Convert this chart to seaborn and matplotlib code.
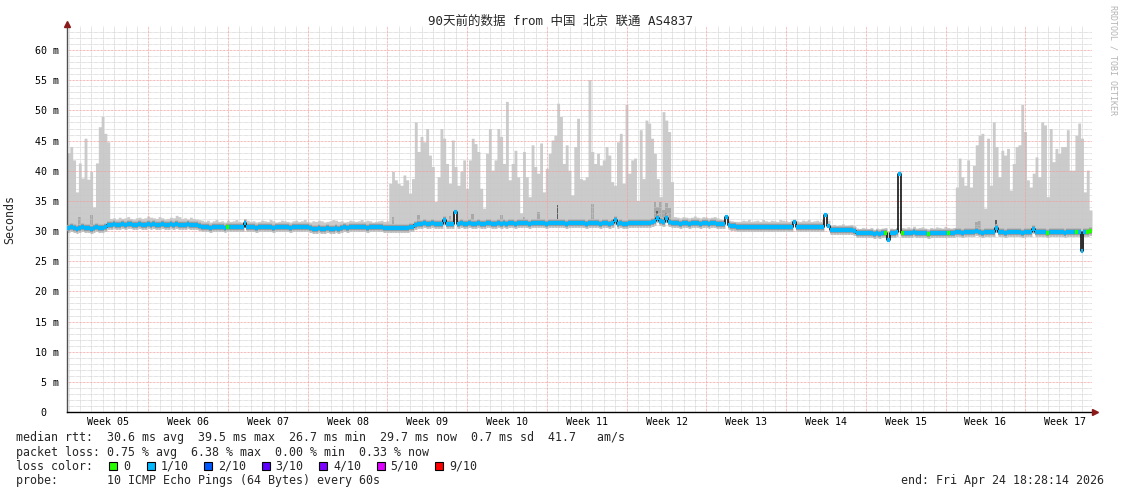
import numpy as np
import matplotlib
matplotlib.use("Agg")
import matplotlib.pyplot as plt
import seaborn as sns
from matplotlib.patches import Rectangle

sns.set_style("white")
plt.rcParams["font.family"] = ["DejaVu Sans Mono", "Noto Sans CJK SC"]

# ---------------- data (ms), one sample per 6 hours, 90 days ----------------
STEP_DAYS = 0.25

# upper edge of the smoke (slowest pings)
hi_a = [43.0, 44.0, 41.8, 36.5, 41.3, 38.8, 45.4, 38.6, 39.9, 34.0, 41.3, 47.3, 49.0, 46.2, 44.8]
hi_q1 = [32.1, 32.2, 32.0, 32.3, 32.1, 32.2, 32.4, 32.1, 32.0, 32.2,
         32.3, 32.1, 32.2, 32.5, 32.3, 32.2, 32.1, 32.4, 32.2, 32.0,
         32.1, 32.3, 32.2, 32.6, 32.4, 32.1, 32.2, 32.0, 32.3, 32.1,
         32.0, 31.9, 31.8,
         31.6, 31.8, 31.5, 31.7, 31.9, 31.6, 31.7, 31.5, 31.8, 31.6,
         31.7, 31.9, 31.6, 31.5, 32.0, 31.8, 31.6, 31.7, 31.5, 31.6,
         31.8, 31.7, 31.6, 31.9, 31.7, 31.5, 31.6, 31.8, 31.7, 31.6,
         31.5, 31.7, 31.8, 31.6, 31.7, 31.9, 31.6, 31.5, 31.7, 31.6,
         31.8, 31.7, 31.5, 31.6, 31.7, 31.9, 31.8, 31.6, 31.7, 31.5,
         31.6, 31.8, 31.7, 31.6, 31.7, 31.9, 31.6, 31.8, 31.7, 31.5,
         31.6, 31.7, 31.8, 31.6, 31.7]
hi_b = [37.9, 39.9, 38.5, 37.9, 37.6, 39.3, 38.5, 36.3, 38.7, 48.1,
        43.2, 45.7, 44.8, 47.0, 42.6, 40.7, 34.9, 39.0, 47.0, 45.4,
        41.2, 37.9, 45.1, 40.7, 37.6, 39.9, 41.8, 37.1, 41.8, 45.4,
        44.5, 43.2, 37.1, 33.8, 42.9, 47.0, 40.1, 41.8, 47.0, 45.7,
        41.2, 51.5, 38.5, 41.2, 43.4, 39.0, 33.0, 43.2, 39.0, 35.7,
        44.3, 40.7,
        39.6, 44.6, 36.5, 40.4, 42.9, 45.1, 45.9, 51.2, 49.0, 41.2,
        44.3, 40.1, 36.0, 44.0, 48.7, 38.7, 38.5, 39.0, 55.1, 43.2,
        41.2, 42.9, 40.9, 41.8, 44.0, 42.6, 38.2, 37.6, 44.8, 46.2,
        37.9, 51.0, 39.6, 41.8, 42.1, 35.1, 46.8, 38.7, 48.4, 47.9,
        45.4, 42.9, 38.7, 35.7, 49.8, 48.4, 46.5, 38.2]
hi_q2 = [32.4, 32.3, 32.2, 32.4, 32.3, 32.2, 32.3, 32.5, 32.3, 32.2, 32.4, 32.3, 32.2, 32.3, 32.4, 32.2,
         32.0, 31.9, 32.6, 31.8, 31.7, 31.6, 31.6,
         31.6, 31.8, 31.7, 31.9, 31.6, 31.7, 31.8, 31.6, 31.9, 31.7,
         31.6, 31.8, 31.7, 31.6, 31.9, 31.8, 31.7, 31.6, 31.8, 32.0,
         31.7, 31.6, 31.8, 31.7, 31.9, 31.6, 31.7, 31.8, 31.6, 31.9,
         33.0, 31.8,
         31.0, 31.1, 30.9, 31.0, 31.2, 30.9, 31.0, 31.1, 30.9,
         30.5, 30.4, 30.6, 30.5, 30.4, 30.6, 30.3, 30.5, 30.4, 30.5, 30.6,
         30.0, 30.5, 30.4, 30.5, 40.0,
         30.6, 30.5, 30.7, 30.5, 30.8, 30.5, 30.6, 30.7, 30.5, 30.4,
         30.6, 30.5, 30.7, 30.6, 30.5, 30.8, 30.6, 30.5, 30.6]
hi_c = [37.3, 42.1, 39.0, 37.6, 41.8, 37.3, 40.9, 44.3, 45.9, 46.2,
        33.8, 45.4, 37.6, 48.1, 44.0, 39.0, 43.4, 42.6, 43.7, 36.8,
        41.2, 44.0, 44.3, 51.0, 46.5, 38.5, 37.3, 39.6, 42.3, 39.0,
        48.1, 47.6, 35.7, 47.0, 41.5, 43.7, 42.9, 44.0, 44.0, 46.8,
        40.1, 40.1, 45.9, 47.9, 45.4, 36.5, 40.1, 33.5]

# median rtt
med_a = [30.5, 30.6, 30.5, 30.4, 30.5, 30.6, 30.5, 30.5, 30.4, 30.5, 30.6, 30.5, 30.5, 30.6, 31.0]
med_q1 = [31.0, 31.1, 31.0, 31.0, 31.1, 31.0, 31.1, 31.1, 31.0, 31.0,
          31.1, 31.0, 31.0, 31.1, 31.0, 31.1, 31.0, 31.0, 31.1, 31.0,
          31.0, 31.1, 31.0, 31.1, 31.0, 31.0, 31.0, 31.1, 31.0, 31.0,
          31.0, 30.8, 30.7,
          30.6, 30.6, 30.5, 30.6, 30.7, 30.6, 30.6, 30.5, 30.6, 30.6,
          30.7, 30.6, 30.6, 30.6, 31.4, 30.7, 30.6, 30.6, 30.5, 30.6,
          30.6, 30.7, 30.6, 30.6, 30.5, 30.6, 30.6, 30.6, 30.7, 30.6,
          30.5, 30.6, 30.6, 30.6, 30.7, 30.6, 30.6, 30.5, 30.4, 30.4,
          30.5, 30.4, 30.4, 30.5, 30.4, 30.4, 30.5, 30.4, 30.5, 30.6,
          30.5, 30.6, 30.6, 30.7, 30.6, 30.6, 30.6, 30.5, 30.6, 30.6,
          30.6, 30.7, 30.6, 30.5, 30.5]
med_b = [30.5, 30.5, 30.5, 30.5, 30.5, 30.5, 30.5, 30.6, 30.6, 31.0,
         31.2, 31.2, 31.3, 31.2, 31.2, 31.3, 31.2, 31.2, 31.2, 31.8,
         31.2, 31.1, 31.2, 33.2, 31.2, 31.3, 31.2, 31.2, 31.3, 31.2,
         31.2, 31.3, 31.2, 31.2, 31.3, 31.3, 31.2, 31.2, 31.3, 31.2,
         31.3, 31.2, 31.3, 31.3, 31.2, 31.3, 31.4, 31.3, 31.3, 31.2,
         31.3, 31.3, 31.4, 31.3, 31.3, 31.2, 31.3, 31.3, 31.3, 31.4,
         31.3, 31.3, 31.2, 31.3, 31.3, 31.3, 31.4, 31.3, 31.3, 31.2,
         31.3, 31.3, 31.4, 31.3, 31.2, 31.3, 31.3, 31.2, 31.3, 31.8,
         31.2, 31.3, 31.2, 31.2, 31.3, 31.3, 31.4, 31.3, 31.3, 31.4,
         31.3, 31.4, 31.5, 31.6, 32.1, 31.6, 31.5, 32.1, 31.5, 31.3]
med_q2 = [31.3, 31.3, 31.2, 31.3, 31.3, 31.2, 31.3, 31.3, 31.3, 31.2, 31.3, 31.3, 31.2, 31.3, 31.3, 31.2,
          31.2, 31.1, 32.3, 31.0, 30.9, 30.8, 30.7,
          30.6, 30.6, 30.7, 30.6, 30.6, 30.6, 30.7, 30.6, 30.6, 30.6,
          30.7, 30.6, 30.6, 30.6, 30.7, 30.6, 30.6, 30.6, 30.6, 31.5,
          30.6, 30.6, 30.7, 30.6, 30.6, 30.6, 30.7, 30.6, 30.6, 30.7,
          32.7, 30.9,
          30.1, 30.1, 30.2, 30.1, 30.1, 30.1, 30.2, 30.1, 30.0,
          29.7, 29.7, 29.6, 29.7, 29.6, 29.6, 29.5, 29.6, 29.5, 29.6, 29.7,
          28.5, 29.7, 29.7, 29.8, 39.5,
          29.6, 29.7, 29.6, 29.6, 29.8, 29.6, 29.6, 29.7, 29.6, 29.5,
          29.6, 29.6, 29.7, 29.6, 29.6, 29.7, 29.6, 29.6, 29.7]
med_c = [29.8, 29.8, 29.7, 29.8, 29.9, 29.8, 29.8, 30.0, 29.8, 29.7,
         29.8, 29.8, 29.9, 29.8, 30.5, 29.9, 29.8, 29.7, 29.8, 29.8,
         29.9, 29.8, 29.8, 29.7, 29.8, 29.8, 29.9, 30.4, 29.9, 29.8,
         29.8, 29.8, 29.7, 29.8, 29.8, 29.9, 29.8, 29.8, 29.7, 29.8,
         29.8, 29.8, 29.8, 29.9, 26.7, 29.8, 29.9, 30.0]

# samples with no packet loss (all others: 1/10 loss)
zero_loss_samples = [56, 287, 293, 302, 309, 344, 354, 358, 359]

# denser smoke spikes (sample index, top ms)
mid_spike_samples = [4, 8, 114, 123, 134, 142, 152, 160, 165, 184, 206, 207, 208, 209, 210, 211, 319, 320]
mid_spike_tops = [32.3, 32.6, 32.4, 32.6, 32.5, 32.9, 32.6, 32.4, 33.1, 34.5, 34.9, 34.0, 34.9, 33.5, 34.6, 33.8, 31.5, 31.6]
dark_spike_samples = [172, 207, 210, 326]
dark_spike_tops = [34.3, 33.3, 33.0, 31.8]

week_labels = ["Week %02d" % w for w in range(5, 18)]
y_tick_values = list(range(0, 61, 5))
loss_labels = ["0", "1/10", "2/10", "3/10", "4/10", "5/10", "9/10"]
loss_colors = ["#26ff00", "#00b8ff", "#0059ff", "#5e00ff", "#7e00ff", "#dd00ff", "#ff0000"]

title = "90天前的数据 from 中国 北京 联通 AS4837"
line_rtt = "median rtt:  30.6 ms avg  39.5 ms max  26.7 ms min  29.7 ms now  0.7 ms sd  41.7   am/s"
line_loss = "packet loss: 0.75 % avg  6.38 % max  0.00 % min  0.33 % now"
line_probe = "probe:       10 ICMP Echo Pings (64 Bytes) every 60s"
line_end = "end: Fri Apr 24 18:28:14 2026"

# ---------------- assemble ----------------
smoke_hi = np.array(hi_a + hi_q1 + hi_b + hi_q2 + hi_c)
median = np.array(med_a + med_q1 + med_b + med_q2 + med_c)
n = min(len(smoke_hi), len(median))
smoke_hi, median = smoke_hi[:n], median[:n]
t = np.arange(n) * STEP_DAYS
seg_colors = [loss_colors[0] if i in zero_loss_samples else loss_colors[1] for i in range(n)]

# the grey halo of the median is not drawn on isolated spikes
prev_m = np.concatenate([[median[0]], median[:-1]])
next_m = np.concatenate([median[1:], [median[-1]]])
is_spike = (np.abs(median - prev_m) > 0.7) & (np.abs(median - next_m) > 0.7)
halo_mask = ~is_spike

W, H = 1121, 494
fig = plt.figure(figsize=(W / 100, H / 100), dpi=100)
fig.patch.set_facecolor("white")
ax = fig.add_axes([67 / W, 82 / H, 1025 / W, 386 / H])
ax.set_facecolor("white")
ax.set_xlim(0, 90)
ax.set_ylim(0, 64)

# smoke
t_ext = np.append(t, t[-1] + STEP_DAYS)
ax.fill_between(t_ext, np.append(median, median[-1]), np.append(smoke_hi, smoke_hi[-1]),
                step="post", color="#cbcbcb", linewidth=0, zorder=1)
mid_base = median[mid_spike_samples]
ax.bar(t[mid_spike_samples], np.array(mid_spike_tops) - mid_base, bottom=mid_base, width=STEP_DAYS,
       align="edge", color="#a8a8a8", linewidth=0, zorder=1.2)
dark_base = median[dark_spike_samples]
ax.bar(t[dark_spike_samples], np.array(dark_spike_tops) - dark_base, bottom=dark_base, width=STEP_DAYS * 0.6,
       align="edge", color="#5c5c5c", linewidth=0, zorder=1.3)

# grid (dotted, drawn over the smoke)
dot = (0, (0.72, 0.72))
week_lines = np.arange(7.14, 90, 7.0)
for d in np.arange(0.14, 90, 1.0):
    if np.min(np.abs(week_lines - d)) < 1e-3:
        continue
    ax.axvline(d, color="#c8c8c8", lw=0.6, ls=dot, zorder=2)
for d in week_lines:
    ax.axvline(d, color="#f0a0a0", lw=0.7, ls=dot, zorder=2.1)
for v in range(1, 64):
    if v % 5:
        ax.axhline(v, color="#c8c8c8", lw=0.6, ls=dot, zorder=2)
for v in range(5, 64, 5):
    ax.axhline(v, color="#f0a0a0", lw=0.7, ls=dot, zorder=2.1)

# median with loss colour
tm, mm = t[halo_mask], median[halo_mask]
ax.hlines(mm, tm, tm + STEP_DAYS, colors="#c2c2c2", linewidth=6.5, zorder=2.5)
ax.hlines(mm, tm, tm + STEP_DAYS, colors="#9c9c9c", linewidth=4.6, zorder=3)
sns.lineplot(x=t_ext, y=np.append(median, median[-1]), estimator=None, sort=False,
             drawstyle="steps-post", color="black", linewidth=1.1, ax=ax, zorder=4, legend=False)
ax.hlines(median, t, t + STEP_DAYS, colors=seg_colors, linewidth=3.0, zorder=5)

# axes
for s in ["top", "right"]:
    ax.spines[s].set_visible(False)
ax.spines["left"].set_color("#505050")
ax.spines["bottom"].set_color("black")
ax.spines["left"].set_linewidth(1.0)
ax.spines["bottom"].set_linewidth(1.0)
ax.plot([0], [64.4], marker="^", color="#8b1a1a", markersize=5, clip_on=False, zorder=6)
ax.plot([90.25], [0], marker=">", color="#8b1a1a", markersize=5, clip_on=False, zorder=6)

ax.set_yticks(y_tick_values)
ax.set_yticklabels(["0  "] + ["%d m" % v for v in y_tick_values[1:]])
ax.tick_params(axis="y", length=2.5, width=0.8, color="#404040", pad=3, labelsize=7.2, labelcolor="black")
ax.set_xticks(np.arange(3.64, 90, 7.0)[:len(week_labels)])
ax.set_xticklabels(week_labels)
ax.tick_params(axis="x", length=0, pad=3.5, labelsize=7.2, labelcolor="black")
ax.set_xticks(week_lines, minor=True)
ax.tick_params(axis="x", which="minor", length=2.5, width=0.8, color="#ee7070")
ax.set_xlabel("")
ax.set_ylabel("")

# texts
fig.text(0.5, 1 - 21 / H, title, ha="center", va="center", fontsize=9,
         family=["DejaVu Sans Mono", "Noto Sans CJK SC"])
fig.text(10 / W, 1 - 219 / H, "Seconds", rotation=90, ha="center", va="center", fontsize=8.4)
fig.text(1112.5 / W, 1 - 5 / H, "RRDTOOL / TOBI OETIKER", rotation=270, ha="center", va="top",
         fontsize=6, color="#b4b4b4")

fs = 8.4
fig.text(16 / W, 1 - 437 / H, line_rtt, ha="left", va="center", fontsize=fs)
fig.text(16 / W, 1 - 452 / H, line_loss, ha="left", va="center", fontsize=fs)
fig.text(16 / W, 1 - 466 / H, "loss color:", ha="left", va="center", fontsize=fs)
fig.text(16 / W, 1 - 480 / H, line_probe, ha="left", va="center", fontsize=fs)
fig.text(1104 / W, 1 - 480 / H, line_end, ha="right", va="center", fontsize=fs)

box_x = [108.5, 146.5, 204, 261.5, 319, 376.5, 435]
lab_x = [123, 160.5, 218, 275.5, 333, 390.5, 449.5]
for bx, lx, lab, col in zip(box_x, lab_x, loss_labels, loss_colors):
    fig.patches.append(Rectangle((bx / W, 1 - 470 / H), 8 / W, 8 / H, transform=fig.transFigure,
                                 facecolor=col, edgecolor="black", linewidth=0.8))
    fig.text(lx / W, 1 - 466 / H, lab, ha="left", va="center", fontsize=fs)

fig.savefig("out.png", dpi=100, facecolor="white")
